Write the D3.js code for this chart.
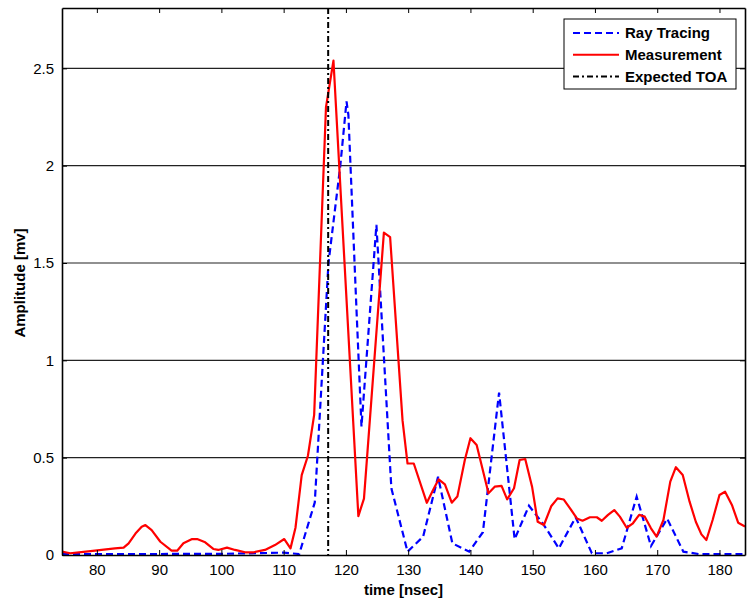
<!DOCTYPE html>
<html>
<head>
<meta charset="utf-8">
<script src="https://cdn.jsdelivr.net/npm/d3@7"></script>
<style>
  body { margin: 0; background: #fff; }
  text { font-family: "Liberation Sans", Arial, sans-serif; }
</style>
</head>
<body>
<div id="vis"></div>
<script>
var W = 747, H = 602,
    m = {top: 8, right: 2, bottom: 47, left: 62};

var measTime = [74.4, 75.7, 77.5, 79.7, 82.9, 84.3, 85.1, 86.2, 87.2, 87.8, 88.8, 90.2,
  92.0, 92.9, 93.9, 95.3, 96.1, 97.4, 98.7, 99.5, 100.9, 102.2, 103.8, 105.2, 107.0,
  108.6, 110.1, 111.1, 111.9, 112.9, 113.9, 114.9, 116.8, 118.0, 122.0, 122.9, 126.1,
  127.1, 129.1, 129.9, 130.9, 133.0, 134.0, 134.9, 135.9, 137.0, 137.9, 139.1, 140.0,
  141.0, 142.9, 143.9, 145.0, 145.9, 147.0, 147.9, 148.8, 149.9, 150.8, 151.8, 153.0,
  154.0, 155.0, 156.0, 157.1, 158.0, 159.2, 160.3, 161.1, 162.1, 163.1, 164.0, 165.1,
  166.1, 167.1, 168.0, 169.0, 169.9, 171.0, 172.1, 173.0, 174.1, 175.2, 176.2, 177.1,
  177.9, 178.9, 180.0, 180.9, 182.0, 183.0, 184.1];
var measAmp = [0.017, 0.009, 0.015, 0.022, 0.034, 0.038, 0.06, 0.11, 0.145, 0.154, 0.128, 0.068,
  0.022, 0.022, 0.06, 0.082, 0.082, 0.065, 0.031, 0.026, 0.038, 0.026, 0.014, 0.014, 0.026,
  0.051, 0.082, 0.034, 0.14, 0.41, 0.51, 0.72, 2.30, 2.54, 0.20, 0.29, 1.656,
  1.633, 0.69, 0.47, 0.47, 0.268, 0.334, 0.389, 0.363, 0.269, 0.30, 0.488, 0.60,
  0.565, 0.317, 0.351, 0.355, 0.286, 0.343, 0.488, 0.493, 0.351, 0.171, 0.154, 0.252,
  0.291, 0.285, 0.24, 0.188, 0.176, 0.194, 0.194, 0.176, 0.206, 0.231, 0.197, 0.14,
  0.163, 0.206, 0.197, 0.137, 0.094, 0.18, 0.377, 0.451, 0.411, 0.274, 0.171, 0.106,
  0.077, 0.18, 0.308, 0.325, 0.257, 0.166, 0.146];

// Ray tracing (blue dashed)
var rayTime = [74.4, 100.0, 110.0, 112.5, 115.0, 117.2, 119.1, 120.1, 120.4, 121.7, 122.5,
  124.9, 127.3, 129.9, 132.4, 134.8, 137.1, 139.8, 142.0, 144.6, 147.1, 149.4, 151.7,
  154.2, 156.9, 159.5, 161.9, 164.3, 166.7, 169.0, 171.6, 174.2, 176.9, 184.1];
var rayAmp = [0.004, 0.006, 0.012, 0.005, 0.27, 1.50, 2.0, 2.33, 2.26, 1.26, 0.66,
  1.696, 0.343, 0.017, 0.094, 0.402, 0.06, 0.017, 0.117, 0.834, 0.081, 0.253, 0.159,
  0.034, 0.194, 0.009, 0.009, 0.034, 0.30, 0.046, 0.187, 0.017, 0.004, 0.004];

var expectedTOA = 117.15;

var xTicks = [80, 90, 100, 110, 120, 130, 140, 150, 160, 170, 180];
var yTicks = [0, 0.5, 1, 1.5, 2, 2.5];

var legendNames = ["Ray Tracing", "Measurement", "Expected TOA"];
var legendColors = ["#0000ff", "#ff0000", "#000000"];
var legendDash = ["7,4", null, "6,3,2,3"];

var x = d3.scaleLinear().domain([74.4, 184.1]).range([m.left, W - m.right]),
    y = d3.scaleLinear().domain([0, 2.81]).range([H - m.bottom, m.top]);

var svg = d3.select("#vis").append("svg")
    .attr("width", W)
    .attr("height", H);

svg.append("defs").append("clipPath").attr("id", "clip")
  .append("rect")
    .attr("x", m.left).attr("y", m.top)
    .attr("width", W - m.left - m.right)
    .attr("height", H - m.top - m.bottom);

// horizontal grid
svg.append("g").selectAll("line")
    .data(yTicks.filter(function(d) { return d > 0; }))
  .enter().append("line")
    .attr("x1", m.left).attr("x2", W - m.right)
    .attr("y1", function(d) { return y(d); })
    .attr("y2", function(d) { return y(d); })
    .attr("stroke", "#222")
    .attr("stroke-width", 1.2);

var plot = svg.append("g").attr("clip-path", "url(#clip)");

var line = d3.line()
    .x(function(d) { return x(d[0]); })
    .y(function(d) { return y(d[1]); });

var rayPts = rayTime.map(function(t, i) { return [t, rayAmp[i]]; });
var measPts = measTime.map(function(t, i) { return [t, measAmp[i]]; });

plot.append("path")
    .attr("d", line(rayPts))
    .attr("fill", "none")
    .attr("stroke", legendColors[0])
    .attr("stroke-width", 2.2)
    .attr("stroke-dasharray", legendDash[0]);

plot.append("path")
    .attr("d", line(measPts))
    .attr("fill", "none")
    .attr("stroke", legendColors[1])
    .attr("stroke-width", 2.2)
    .attr("stroke-linejoin", "round");

plot.append("line")
    .attr("x1", x(expectedTOA)).attr("x2", x(expectedTOA))
    .attr("y1", m.top).attr("y2", H - m.bottom)
    .attr("stroke", legendColors[2])
    .attr("stroke-width", 2)
    .attr("stroke-dasharray", legendDash[2]);

// axes, ticks inward like matlab
function styleAxis(g) {
  g.select(".domain").attr("stroke", "#000").attr("stroke-width", 1.6);
  g.selectAll(".tick line").attr("stroke", "#000").attr("stroke-width", 1);
  g.selectAll("text").attr("font-size", 15).attr("fill", "#000");
}

svg.append("g")
    .attr("transform", "translate(0," + (H - m.bottom) + ")")
    .call(d3.axisBottom(x).tickValues(xTicks).tickSize(-5).tickPadding(9).tickSizeOuter(0))
    .call(styleAxis);

svg.append("g")
    .attr("transform", "translate(0," + m.top + ")")
    .call(d3.axisTop(x).tickValues(xTicks).tickSize(-5).tickFormat("").tickSizeOuter(0))
    .call(styleAxis);

svg.append("g")
    .attr("transform", "translate(" + m.left + ",0)")
    .call(d3.axisLeft(y).tickValues(yTicks).tickSize(-5).tickPadding(8).tickSizeOuter(0)
      .tickFormat(function(d) { return String(d); }))
    .call(styleAxis);

svg.append("g")
    .attr("transform", "translate(" + (W - m.right) + ",0)")
    .call(d3.axisRight(y).tickValues(yTicks).tickSize(-5).tickFormat("").tickSizeOuter(0))
    .call(styleAxis);

// axis titles
svg.append("text")
    .attr("x", (m.left + W - m.right) / 2)
    .attr("y", 595)
    .attr("text-anchor", "middle")
    .attr("font-size", 15)
    .attr("font-weight", "bold")
    .text("time [nsec]");

svg.append("text")
    .attr("transform", "translate(25," + 283 + ") rotate(-90)")
    .attr("text-anchor", "middle")
    .attr("font-size", 15)
    .attr("font-weight", "bold")
    .text("Amplitude [mv]");

// legend
var lg = svg.append("g").attr("transform", "translate(564,19)");
lg.append("rect")
    .attr("width", 172).attr("height", 70)
    .attr("fill", "#fff")
    .attr("stroke", "#000")
    .attr("stroke-width", 1);

var item = lg.selectAll("g.item")
    .data(legendNames)
  .enter().append("g")
    .attr("class", "item")
    .attr("transform", function(d, i) { return "translate(0," + (14 + i * 21.7) + ")"; });

item.append("line")
    .attr("x1", 9).attr("x2", 55)
    .attr("stroke", function(d, i) { return legendColors[i]; })
    .attr("stroke-width", 2)
    .attr("stroke-dasharray", function(d, i) { return legendDash[i]; });

item.append("text")
    .attr("x", 61)
    .attr("dy", "0.35em")
    .attr("font-size", 15)
    .attr("font-weight", "bold")
    .text(function(d) { return d; });
</script>
</body>
</html>
